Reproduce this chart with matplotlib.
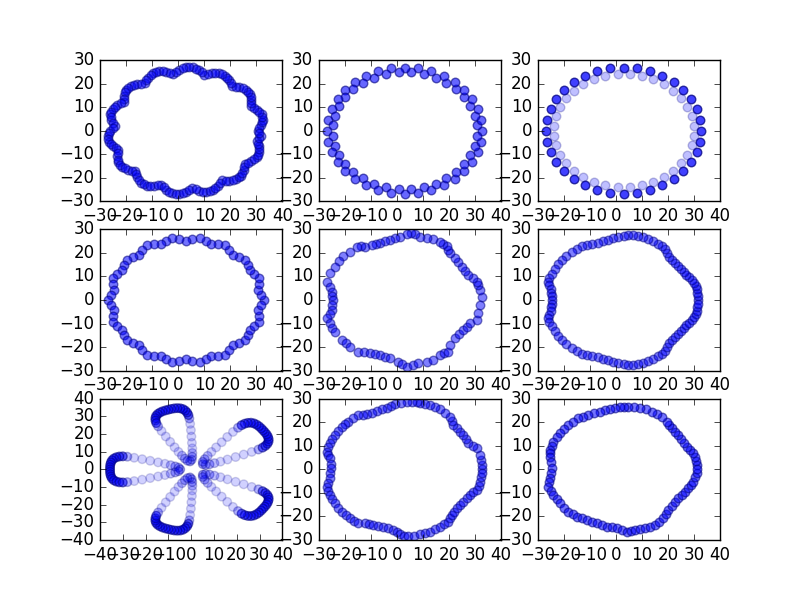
import matplotlib
matplotlib.use("Agg")
import matplotlib.pyplot as plt

plt.style.use("classic")

# ---------------- data ----------------
p1_x = [30.5, 31.9, 32.6, 32.0, 30.3, 27.9, 28.1, 27.6, 26.0, 23.5, 20.7, 19.7, 18.0, 15.7, 12.9, 10.1, 8.1, 5.6,
        3.0, 0.5, -1.8, -4.5, -7.3, -9.7, -11.5, -12.8, -15.7, -18.2, -20.0, -20.8, -20.8, -23.3, -25.2, -26.0,
        -25.6, -24.4, -26.0, -26.9, -26.6, -25.0, -22.9, -23.3, -23.0, -21.6, -19.2, -16.4, -15.7, -14.2, -12.0,
        -9.3, -6.4, -4.5, -2.2, 0.4, 3.0, 5.4, 8.1, 10.8, 13.3, 15.3, 16.8, 19.7, 22.3, 24.2, 25.2, 25.5, 28.1,
        30.2, 31.2, 31.0, 30.1, 31.9]
p1_y = [0.0, 2.3, 4.7, 7.0, 8.9, 10.4, 13.0, 15.5, 17.4, 18.4, 18.8, 21.3, 23.4, 24.5, 24.4, 23.7, 25.6, 26.9,
        27.0, 25.9, 24.1, 25.1, 25.4, 24.5, 22.5, 20.1, 19.9, 19.1, 17.4, 14.9, 12.3, 11.0, 9.2, 7.0, 4.5, 2.1,
        0.0, -2.3, -4.7, -6.7, -8.4, -11.0, -13.5, -15.5, -16.7, -17.3, -19.9, -22.1, -23.4, -23.6, -23.0,
        -25.1, -26.6, -26.9, -26.0, -24.4, -25.6, -26.1, -25.4, -23.6, -21.2, -21.3, -20.7, -19.1, -16.7, -14.1,
        -13.0, -11.4, -9.2, -6.7, -4.3, -2.3]
p1_mid_x = [31.2, 32.3, 32.3, 31.2, 29.1, 28.0, 27.9, 26.8, 24.8, 22.1, 20.2, 18.9, 16.9, 14.3, 11.5, 9.1, 6.9,
            4.3, 1.8, -0.7, -3.2, -5.9, -8.5, -10.6, -12.2, -14.3, -17.0, -19.1, -20.4, -20.8, -22.1, -24.3,
            -25.6, -25.8, -25.0, -25.2, -26.5, -26.8, -25.8, -24.0, -23.1, -23.2, -22.3, -20.4, -17.8, -16.1,
            -15.0, -13.1, -10.7, -7.9, -5.5, -3.4, -0.9, 1.7, 4.2, 6.8, 9.5, 12.1, 14.3, 16.1, 18.3, 21.0, 23.3,
            24.7, 25.4, 26.8, 29.2, 30.7, 31.1, 30.6, 31.0, 31.2]
p1_mid_y = [1.2, 3.5, 5.9, 8.0, 9.7, 11.7, 14.3, 16.5, 17.9, 18.6, 20.1, 22.4, 24.0, 24.5, 24.1, 24.7, 26.3, 27.0,
            26.5, 25.0, 24.6, 25.3, 25.0, 23.5, 21.3, 20.0, 19.5, 18.3, 16.2, 13.6, 11.7, 10.1, 8.1, 5.8, 3.3,
            1.1, -1.2, -3.5, -5.7, -7.6, -9.7, -12.3, -14.5, -16.1, -17.0, -18.6, -21.0, -22.8, -23.5, -23.3,
            -24.1, -25.9, -26.8, -26.5, -25.2, -25.0, -25.9, -25.8, -24.5, -22.4, -21.3, -21.0, -19.9, -17.9,
            -15.4, -13.6, -12.2, -10.3, -8.0, -5.5, -3.3, -1.2]

p2_x = [32.8, 30.7, 32.4, 29.9, 31.0, 28.2, 28.8, 25.8, 25.8, 22.7, 22.2, 19.0, 17.9, 14.8, 13.2, 10.2, 8.2, 5.4,
        3.0, 0.6, -2.2, -4.2, -7.2, -8.8, -11.9, -13.0, -16.2, -16.7, -19.8, -19.8, -22.8, -22.2, -25.0, -23.9,
        -26.4, -24.7, -26.8, -24.7, -26.4, -23.9, -25.0, -22.2, -22.8, -19.8, -19.8, -16.7, -16.2, -13.0, -11.9,
        -8.8, -7.2, -4.2, -2.2, 0.6, 3.0, 5.4, 8.2, 10.2, 13.2, 14.8, 17.9, 19.0, 22.2, 22.7, 25.8, 25.8, 28.8,
        28.2, 31.0, 29.9, 32.4, 30.7]
p2_y = [0.0, 2.2, 4.7, 6.4, 9.2, 10.5, 13.4, 14.2, 17.2, 17.5, 20.5, 20.3, 23.2, 22.5, 25.2, 24.0, 26.4, 24.7,
        26.8, 24.7, 26.4, 24.0, 25.2, 22.5, 23.2, 20.3, 20.5, 17.5, 17.2, 14.2, 13.4, 10.5, 9.2, 6.4, 4.7, 2.2,
        0.0, -2.2, -4.7, -6.4, -9.2, -10.5, -13.4, -14.2, -17.2, -17.5, -20.5, -20.3, -23.2, -22.5, -25.2, -24.0,
        -26.4, -24.7, -26.8, -24.7, -26.4, -24.0, -25.2, -22.5, -23.2, -20.3, -20.5, -17.5, -17.2, -14.2, -13.4,
        -10.5, -9.2, -6.4, -4.7, -2.2]

p3_dark_x = [32.8, 32.4, 31.0, 28.8, 25.8, 22.2, 17.9, 13.2, 8.2, 3.0, -2.2, -7.2, -11.9, -16.2, -19.8, -22.8,
             -25.0, -26.4, -26.8, -26.4, -25.0, -22.8, -19.8, -16.2, -11.9, -7.2, -2.2, 3.0, 8.2, 13.2, 17.9,
             22.2, 25.8, 28.8, 31.0, 32.4]
p3_dark_y = [0.0, 4.7, 9.2, 13.4, 17.2, 20.5, 23.2, 25.2, 26.4, 26.8, 26.4, 25.2, 23.2, 20.5, 17.2, 13.4, 9.2,
             4.7, 0.0, -4.7, -9.2, -13.4, -17.2, -20.5, -23.2, -25.2, -26.4, -26.8, -26.4, -25.2, -23.2, -20.5,
             -17.2, -13.4, -9.2, -4.7]
p3_light_x = [29.9, 29.1, 27.5, 25.1, 22.1, 18.5, 14.4, 10.0, 5.4, 0.7, -4.0, -8.4, -12.5, -16.1, -19.1, -21.5,
              -23.1, -23.9, -23.9, -23.1, -21.5, -19.1, -16.1, -12.5, -8.4, -4.0, 0.7, 5.4, 10.0, 14.4, 18.5,
              22.1, 25.1, 27.5, 29.1, 29.9]
p3_light_y = [2.1, 6.2, 10.2, 13.8, 17.0, 19.7, 21.8, 23.2, 23.9, 23.9, 23.2, 21.8, 19.7, 17.0, 13.8, 10.2, 6.2,
              2.1, -2.1, -6.2, -10.2, -13.8, -17.0, -19.7, -21.8, -23.2, -23.9, -23.9, -23.2, -21.8, -19.7,
              -17.0, -13.8, -10.2, -6.2, -2.1]

p4_x = [32.8, 31.9, 30.8, 31.0, 31.0, 29.3, 27.4, 26.8, 25.8, 23.5, 21.1, 19.7, 17.9, 15.3, 12.7, 10.5, 8.2, 5.5,
        3.0, 0.5, -2.2, -4.5, -6.7, -9.3, -11.9, -13.7, -15.1, -17.5, -19.8, -20.8, -21.4, -23.3, -25.0, -25.0,
        -24.8, -25.9, -26.8, -25.9, -24.8, -25.0, -25.0, -23.3, -21.4, -20.8, -19.8, -17.5, -15.1, -13.7, -11.9,
        -9.3, -6.7, -4.5, -2.2, 0.5, 3.0, 5.5, 8.2, 10.5, 12.7, 15.3, 17.9, 19.7, 21.1, 23.5, 25.8, 26.8, 27.4,
        29.3, 31.0, 31.0, 30.8, 31.9]
p4_y = [0.0, 2.3, 4.4, 6.7, 9.2, 11.0, 12.6, 14.9, 17.2, 18.4, 19.3, 21.3, 23.2, 23.6, 23.7, 25.1, 26.4, 25.9,
        25.2, 25.9, 26.4, 25.1, 23.7, 23.6, 23.2, 21.3, 19.3, 18.4, 17.2, 14.9, 12.6, 11.0, 9.2, 6.7, 4.4, 2.3,
        0.0, -2.3, -4.4, -6.7, -9.2, -11.0, -12.6, -14.9, -17.2, -18.4, -19.3, -21.3, -23.2, -23.6, -23.7,
        -25.1, -26.4, -25.9, -25.2, -25.9, -26.4, -25.1, -23.7, -23.6, -23.2, -21.3, -19.3, -18.4, -17.2,
        -14.9, -12.6, -11.0, -9.2, -6.7, -4.4, -2.3]

p5_x = [32.5, 31.9, 31.2, 30.6, 29.0, 27.4, 26.0, 24.8, 23.5, 22.3, 20.4, 19.6, 19.1, 17.8, 16.5, 14.0, 11.4, 8.8,
        6.9, 5.3, 3.7, 1.2, -0.8, -2.7, -4.6, -6.5, -8.0, -9.7, -12.3, -14.0, -15.5, -18.0, -20.6, -22.2, -23.8,
        -25.7, -27.0, -25.9, -25.0, -24.8, -24.7, -24.8, -25.0, -25.9, -27.0, -25.7, -24.8, -23.8, -21.2, -19.6,
        -18.0, -14.8, -12.6, -10.4, -8.5, -6.5, -4.6, -2.7, 0.5, 2.0, 3.7, 6.0, 8.2, 11.4, 14.0, 16.5, 18.1,
        19.7, 20.4, 22.3, 23.9, 25.5, 26.7, 28.0, 30.6, 31.2, 31.9]
p5_y = [1.4, 4.3, 6.2, 7.8, 9.2, 10.6, 12.5, 14.2, 16.0, 17.7, 19.8, 21.4, 23.0, 24.0, 24.8, 25.9, 26.2, 26.9,
        28.0, 28.3, 28.0, 26.9, 26.2, 25.5, 25.0, 24.4, 23.9, 23.4, 22.7, 22.8, 22.7, 20.5, 18.7, 16.5, 14.2,
        11.3, 7.8, 5.6, 3.5, 1.7, 0.0, -2.0, -4.2, -6.0, -7.8, -9.9, -11.7, -13.5, -17.0, -18.4, -19.8, -21.9,
        -22.3, -22.7, -23.0, -23.4, -24.1, -24.8, -26.2, -27.2, -28.3, -27.6, -26.9, -26.2, -25.5, -23.4,
        -22.6, -21.9, -19.1, -16.3, -14.5, -12.7, -11.3, -9.9, -8.5, -5.7, -2.1]

p6_x = [31.4, 31.4, 31.3, 31.1, 30.7, 30.0, 29.2, 28.2, 27.0, 26.0, 24.9, 23.8, 22.7, 21.5, 20.3, 19.6, 19.0, 17.8,
        16.2, 14.4, 12.5, 10.6, 8.6, 6.6, 4.8, 3.0, 1.0, -0.9, -3.0, -5.0, -7.0, -9.0, -11.0, -13.0, -15.0,
        -17.0, -19.0, -20.8, -22.3, -23.5, -24.6, -25.5, -25.9, -25.5, -25.0, -24.7, -24.6, -24.6, -24.6,
        -24.7, -25.0, -25.5, -25.9, -25.5, -24.6, -23.5, -22.3, -20.8, -19.0, -17.0, -15.0, -13.0, -11.0,
        -9.0, -7.0, -5.0, -3.0, -0.9, 1.0, 3.0, 4.8, 6.6, 8.6, 10.6, 12.5, 14.4, 16.2, 17.8, 19.0, 19.6, 20.3,
        21.5, 22.7, 23.8, 24.9, 26.0, 27.0, 28.2, 29.2, 30.0, 30.7, 31.1, 31.3, 31.4]
p6_y = [0.0, 1.5, 3.0, 4.5, 6.0, 7.3, 8.5, 9.6, 10.8, 12.0, 13.2, 14.4, 15.6, 16.9, 18.4, 20.0, 21.5, 22.8, 24.0,
        25.2, 26.0, 26.8, 27.3, 27.6, 27.6, 27.2, 26.7, 26.2, 25.5, 24.9, 24.3, 23.7, 23.2, 22.9, 21.8, 20.3,
        18.8, 17.0, 15.1, 13.2, 11.2, 9.3, 7.8, 6.2, 4.6, 3.0, 1.5, 0.0, -1.5, -3.0, -4.6, -6.2, -7.8, -9.3,
        -11.2, -13.2, -15.1, -17.0, -18.8, -20.3, -21.8, -22.9, -23.2, -23.7, -24.3, -24.9, -25.5, -26.2,
        -26.7, -27.2, -27.6, -27.6, -27.3, -26.8, -26.0, -25.2, -24.0, -22.8, -21.5, -20.0, -18.4, -16.9,
        -15.6, -14.4, -13.2, -12.0, -10.8, -9.6, -8.5, -7.3, -6.0, -4.5, -3.0, -1.5]

# panel 7: five petals
p7_left_x = [-4.8, -5.5, -7.0, -9.0, -11.5, -14.5, -18.0, -21.5, -25.0, -28.0, -30.0, -31.5, -32.8, -33.9, -34.7,
             -35.2, -35.5, -35.6, -35.6, -35.6, -35.5, -35.2, -34.7, -33.9, -32.8, -31.5, -30.0, -28.0, -25.0,
             -21.5, -18.0, -14.5, -11.5, -9.0, -7.0, -5.5]
p7_left_y = [0.0, 1.0, 1.7, 2.4, 3.2, 4.0, 4.9, 5.8, 6.6, 7.2, 7.4, 7.3, 6.9, 6.2, 5.2, 4.0, 2.7, 1.3, 0.0, -1.3,
             -2.7, -4.0, -5.2, -6.2, -6.9, -7.3, -7.4, -7.2, -6.6, -5.8, -4.9, -4.0, -3.2, -2.4, -1.7, -1.0]
p7_top_x = [-0.48, 0.25, 0.46, 0.50, 0.49, 0.32, 0.10, -0.12, -0.45, -0.80, -1.23, -1.79, -2.58, -3.58, -4.77,
            -6.08, -7.40, -8.76, -10.00, -11.24, -12.54, -13.68, -14.67, -15.38, -15.70, -15.67, -15.31, -14.50,
            -13.01, -11.16, -9.22, -7.28, -5.59, -4.06, -2.78, -1.65]
p7_top_y = [4.56, 5.54, 7.19, 9.30, 11.93, 15.03, 18.63, 22.24, 25.82, 28.85, 30.82, 32.22, 33.32, 34.16, 34.61,
            34.72, 34.59, 34.26, 33.86, 33.46, 32.93, 32.24, 31.39, 30.32, 29.06, 27.70, 26.24, 24.41, 21.74,
            18.66, 15.61, 12.55, 9.95, 7.82, 6.13, 4.92]
p7_bottom_x = [-0.48, 0.25, 0.46, 0.50, 0.49, 0.32, 0.10, -0.12, -0.45, -0.80, -1.23, -1.79, -2.58, -3.58, -4.77,
               -6.08, -7.40, -8.76, -10.00, -11.24, -12.54, -13.68, -14.67, -15.38, -15.70, -15.67, -15.31,
               -14.50, -13.01, -11.16, -9.22, -7.28, -5.59, -4.06, -2.78, -1.65]
p7_bottom_y = [-4.56, -5.54, -7.19, -9.30, -11.93, -15.03, -18.63, -22.24, -25.82, -28.85, -30.82, -32.22,
               -33.32, -34.16, -34.61, -34.72, -34.59, -34.26, -33.86, -33.46, -32.93, -32.24, -31.39, -30.32,
               -29.06, -27.70, -26.24, -24.41, -21.74, -18.66, -15.61, -12.55, -9.95, -7.82, -6.13, -4.92]
p7_upright_x = [5.11, 6.34, 8.06, 10.21, 12.85, 15.92, 19.49, 23.05, 26.56, 29.49, 31.34, 32.56, 33.44, 33.94,
                34.00, 33.68, 33.13, 32.33, 31.53, 30.72, 29.76, 28.70, 27.51, 26.21, 24.83, 23.46, 22.12, 20.53,
                18.33, 15.82, 13.38, 10.94, 8.87, 7.22, 5.94, 5.09]
p7_upright_y = [2.99, 2.57, 2.90, 3.55, 4.42, 5.61, 7.02, 8.43, 9.92, 11.28, 12.35, 13.37, 14.53, 15.80, 17.16,
                18.51, 19.81, 21.07, 22.19, 23.30, 24.43, 25.38, 26.09, 26.45, 26.36, 25.90, 25.05, 23.62, 21.24,
                18.37, 15.41, 12.48, 9.91, 7.66, 5.83, 4.28]
p7_lowright_x = [5.11, 6.34, 8.06, 10.21, 12.85, 15.92, 19.49, 23.05, 26.56, 29.49, 31.34, 32.56, 33.44, 33.94,
                 34.00, 33.68, 33.13, 32.33, 31.53, 30.72, 29.76, 28.70, 27.51, 26.21, 24.83, 23.46, 22.12, 20.53,
                 18.33, 15.82, 13.38, 10.94, 8.87, 7.22, 5.94, 5.09]
p7_lowright_y = [-2.99, -2.57, -2.90, -3.55, -4.42, -5.61, -7.02, -8.43, -9.92, -11.28, -12.35, -13.37, -14.53,
                 -15.80, -17.16, -18.51, -19.81, -21.07, -22.19, -23.30, -24.43, -25.38, -26.09, -26.45, -26.36,
                 -25.90, -25.05, -23.62, -21.24, -18.37, -15.41, -12.48, -9.91, -7.66, -5.83, -4.28]

p8_x = [32.6, 32.5, 32.2, 31.9, 30.6, 29.0, 27.4, 26.5, 25.3, 24.2, 22.9, 21.6, 21.0, 20.4, 18.5, 16.5, 14.6, 12.7,
        10.6, 8.8, 7.6, 5.6, 3.7, 1.5, -0.7, -2.3, -3.9, -5.8, -7.8, -9.7, -11.6, -13.2, -14.8, -16.8, -18.7,
        -20.0, -21.2, -22.5, -23.8, -24.8, -25.7, -26.4, -27.0, -26.3, -25.7, -25.5, -25.5,
        -25.6, -25.7, -26.4, -27.0, -26.3, -25.7, -24.8, -23.8, -22.5, -21.2, -19.6, -18.0, -16.4, -14.8, -12.3,
        -10.7, -9.1, -7.2, -5.2, -3.3, -1.4, 0.0, 1.2, 2.8, 4.4, 6.6, 8.8, 10.8, 12.7, 14.6, 16.5, 18.1, 19.7,
        20.4, 21.0, 22.0, 22.9, 24.2, 25.5, 26.8, 28.0, 29.3, 30.6, 31.3, 31.9, 32.2, 32.5]
p8_y = [0.0, 1.9, 4.0, 6.2, 9.0, 10.0, 11.1, 12.8, 14.5, 16.1, 17.5, 18.9, 20.6, 22.4, 24.1, 25.7, 26.6, 27.4,
        28.0, 28.4, 28.5, 28.8, 28.8, 28.3, 27.7, 26.9, 26.0, 25.5, 24.9, 24.1, 23.4, 23.3, 23.2, 21.8, 20.3,
        19.3, 18.2, 16.5, 14.7, 12.9, 11.1, 9.4, 7.6, 6.1, 4.7, 2.5, 0.5,
        -1.5, -3.8, -5.6, -7.3, -9.0, -10.8, -12.6, -14.4, -16.2, -17.9, -19.4, -20.8, -21.9, -22.9, -22.9,
        -23.3, -23.6, -24.0, -24.3, -25.0, -25.7, -26.7, -27.6, -28.1, -28.5, -28.1, -27.6, -27.0, -26.4,
        -25.4, -24.3, -23.3, -22.2, -20.8, -19.3, -17.9, -16.5, -15.1, -13.7, -12.2, -10.8, -9.8, -8.7, -7.0,
        -5.2, -3.4, -1.6]

p9_x = [31.3, 30.9, 30.4, 29.5, 28.5, 27.3, 26.0, 25.0, 24.0, 22.8, 21.5, 20.6, 19.6, 17.6, 15.7, 13.8, 11.6, 9.3,
        7.0, 4.8, 3.2, 1.6, -0.3, -2.2, -4.1, -6.0, -8.2, -10.5, -12.5, -14.4, -16.3, -18.2, -19.8, -21.4, -22.7,
        -24.0, -24.6, -25.2, -25.2, -25.2, -24.9, -24.6,
        -24.9, -25.2, -25.6, -25.9, -25.0, -24.0, -22.7, -21.4, -19.8, -18.2, -16.6, -15.0, -13.1, -11.2, -9.2,
        -7.3, -5.4, -3.5, -1.5, 0.4, 2.3, 4.2, 5.8, 7.4, 9.3, 11.2, 13.2, 15.1, 16.7, 18.3, 19.2, 20.2, 21.4,
        22.7, 24.0, 25.3, 26.6, 27.9, 28.9, 29.8, 30.5, 31.1, 31.3]
p9_y = [1.9, 3.6, 5.4, 6.9, 8.3, 9.7, 11.1, 12.9, 14.6, 16.0, 17.5, 18.9, 20.3, 22.4, 23.5, 24.6, 25.5, 26.3, 26.5,
        26.7, 26.7, 26.7, 26.2, 25.7, 25.1, 24.6, 23.9, 23.2, 22.4, 21.7, 20.3, 18.9, 17.1, 15.4, 13.6, 11.8,
        10.0, 8.3, 6.8, 5.4, 3.0, 0.5,
        -1.6, -3.8, -5.5, -7.3, -9.0, -10.8, -12.6, -14.4, -16.2, -17.9, -19.0, -20.1, -20.8, -21.5, -22.2,
        -22.9, -23.6, -24.3, -24.6, -25.0, -25.7, -26.4, -26.0, -25.7, -25.3, -25.0, -24.3, -23.6, -22.2,
        -20.8, -19.0, -17.2, -15.4, -13.7, -12.2, -10.8, -9.4, -8.0, -6.6, -5.2, -3.4, -1.6, 0.2]

ring_ticks_x = [-30, -20, -10, 0, 10, 20, 30, 40]
ring_ticks_y = [-30, -20, -10, 0, 10, 20, 30]
petal_ticks = [-40, -30, -20, -10, 0, 10, 20, 30, 40]

# ---------------- drawing ----------------
fig, axes = plt.subplots(3, 3, figsize=(8, 6), dpi=100)
ax = axes.ravel()

KW = dict(s=38, c="b", edgecolors="#000080", linewidths=1.0)

# per-marker opacity along one petal (style): light sides, dense dark tip
petal_alpha = ([0.35, 0.3, 0.3, 0.25] + [0.18] * 5 + [0.3] + [0.55] * 17 + [0.3] + [0.18] * 5
               + [0.25, 0.3, 0.3])
petal_face = [(0.0, 0.0, 1.0, a) for a in petal_alpha]
petal_edge = [(0.0, 0.0, 0.5, a) for a in petal_alpha]


def ring_axes(a):
    a.set_xlim(-30, 40)
    a.set_ylim(-30, 30)
    a.set_xticks(ring_ticks_x)
    a.set_yticks(ring_ticks_y)


ax[0].scatter(p1_x, p1_y, alpha=0.5, **KW)
ax[0].scatter(p1_mid_x, p1_mid_y, alpha=0.5, **KW)
ax[1].scatter(p2_x, p2_y, alpha=0.6, **KW)
ax[2].scatter(p3_light_x, p3_light_y, alpha=0.25, **KW)
ax[2].scatter(p3_dark_x, p3_dark_y, alpha=0.75, **KW)
ax[3].scatter(p4_x, p4_y, alpha=0.55, **KW)
ax[4].scatter(p5_x, p5_y, alpha=0.5, **KW)
ax[5].scatter(p6_x, p6_y, alpha=0.5, **KW)
for px, py in [(p7_left_x, p7_left_y), (p7_top_x, p7_top_y), (p7_bottom_x, p7_bottom_y),
               (p7_upright_x, p7_upright_y), (p7_lowright_x, p7_lowright_y)]:
    ax[6].scatter(px, py, s=38, c=petal_face, edgecolors=petal_edge, linewidths=1.0)
ax[7].scatter(p8_x, p8_y, alpha=0.5, **KW)
ax[8].scatter(p9_x, p9_y, alpha=0.55, **KW)

for i, a in enumerate(ax):
    if i == 6:
        a.set_xlim(-40, 40)
        a.set_ylim(-40, 40)
        a.set_xticks(petal_ticks)
        a.set_yticks(petal_ticks)
    else:
        ring_axes(a)

fig.savefig("out.png", dpi=100)
